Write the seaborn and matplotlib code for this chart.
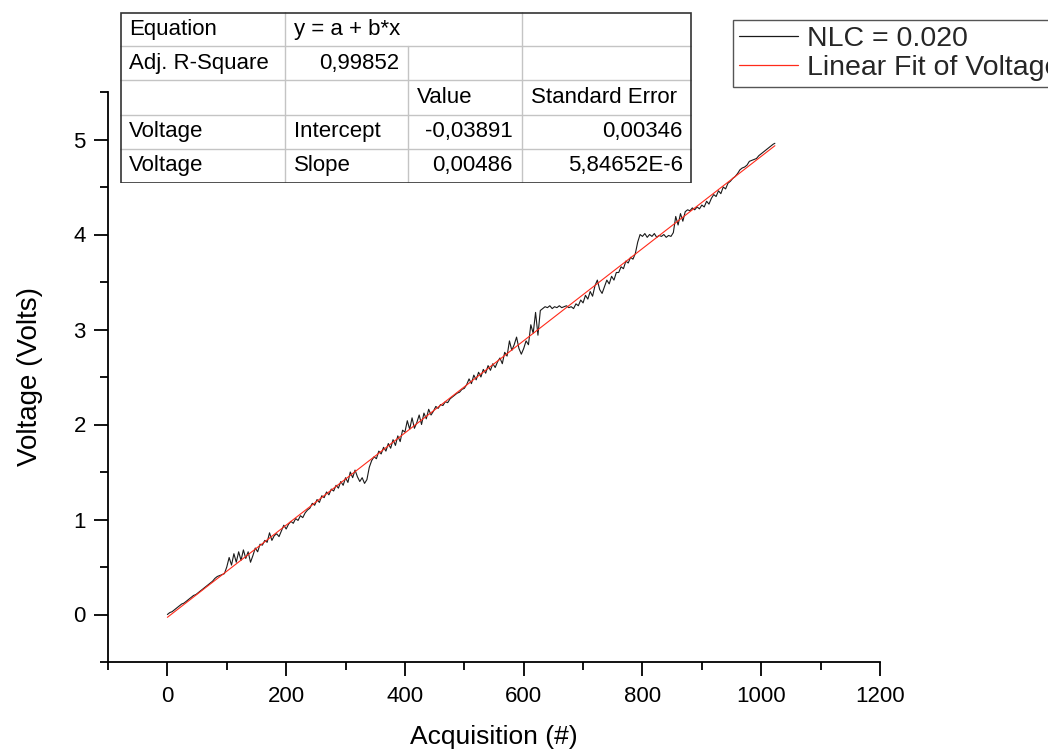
import matplotlib
matplotlib.use("Agg")
import matplotlib.pyplot as plt
import numpy as np
import pandas as pd
import seaborn as sns
from matplotlib.ticker import MultipleLocator, FormatStrFormatter

# ---------------- data ----------------
acquisition = list(range(0, 1024, 4)) + [1023]
voltage = [
    0.00, 0.02, 0.03, 0.05, 0.07, 0.09, 0.11, 0.12, 0.14, 0.16,
    0.18, 0.20, 0.21, 0.23, 0.25, 0.27, 0.29, 0.31, 0.33, 0.35,
    0.38, 0.40, 0.41, 0.42, 0.43, 0.50, 0.60, 0.52, 0.64, 0.55,
    0.66, 0.57, 0.68, 0.59, 0.66, 0.55, 0.62, 0.70, 0.66, 0.74,
    0.73, 0.78, 0.76, 0.86, 0.78, 0.83, 0.85, 0.82, 0.88, 0.94,
    0.90, 0.95, 0.98, 0.96, 1.01, 0.99, 1.04, 1.02, 1.07, 1.10,
    1.12, 1.17, 1.15, 1.21, 1.18, 1.25, 1.23, 1.29, 1.26, 1.32,
    1.30, 1.36, 1.33, 1.40, 1.36, 1.44, 1.39, 1.50, 1.44, 1.52,
    1.45, 1.40, 1.44, 1.38, 1.42, 1.55, 1.62, 1.66, 1.64, 1.72,
    1.69, 1.76, 1.72, 1.80, 1.75, 1.84, 1.78, 1.88, 1.82, 1.94,
    1.92, 2.04, 1.95, 2.07, 1.96, 2.02, 2.10, 2.00, 2.12, 2.06,
    2.16, 2.10, 2.14, 2.19, 2.17, 2.21, 2.20, 2.24, 2.23, 2.27,
    2.29, 2.31, 2.33, 2.34, 2.37, 2.38, 2.42, 2.48, 2.43, 2.52,
    2.47, 2.55, 2.50, 2.58, 2.54, 2.62, 2.57, 2.64, 2.60, 2.66,
    2.70, 2.64, 2.76, 2.72, 2.88, 2.78, 2.84, 2.92, 2.80, 2.74,
    2.80, 2.88, 2.84, 3.05, 2.96, 3.18, 2.94, 3.20, 3.22, 3.24,
    3.23, 3.25, 3.22, 3.24, 3.23, 3.25, 3.23, 3.24, 3.25, 3.23,
    3.24, 3.22, 3.27, 3.25, 3.31, 3.28, 3.36, 3.32, 3.40, 3.35,
    3.46, 3.52, 3.42, 3.38, 3.45, 3.52, 3.48, 3.56, 3.52, 3.60,
    3.60, 3.66, 3.64, 3.72, 3.70, 3.76, 3.74, 3.80, 3.92, 4.00,
    3.98, 4.01, 3.97, 4.00, 3.98, 4.01, 3.97, 3.99, 3.98, 4.00,
    3.97, 3.99, 3.98, 4.02, 4.19, 4.10, 4.22, 4.14, 4.24, 4.26,
    4.25, 4.28, 4.26, 4.29, 4.27, 4.31, 4.29, 4.35, 4.32, 4.38,
    4.42, 4.40, 4.46, 4.43, 4.50, 4.48, 4.54, 4.56, 4.59, 4.61,
    4.64, 4.68, 4.70, 4.71, 4.73, 4.77, 4.78, 4.79, 4.80, 4.83,
    4.85, 4.87, 4.89, 4.91, 4.93, 4.95,
    4.96,
]
series_label = "NLC = 0.020"
fit_label = "Linear Fit of Voltage"
x_label = "Acquisition (#)"
y_label = "Voltage (Volts)"
x_ticks = [0, 200, 400, 600, 800, 1000, 1200]
y_ticks = [0, 1, 2, 3, 4, 5]

# fit-result table: (row, column, text, alignment)
table_cells = [
    (0, 0, "Equation", "left"), (0, 1, "y = a + b*x", "left"),
    (1, 0, "Adj. R-Square", "left"), (1, 1, "0,99852", "right"),
    (2, 2, "Value", "left"), (2, 3, "Standard Error", "left"),
    (3, 0, "Voltage", "left"), (3, 1, "Intercept", "left"),
    (3, 2, "-0,03891", "right"), (3, 3, "0,00346", "right"),
    (4, 0, "Voltage", "left"), (4, 1, "Slope", "left"),
    (4, 2, "0,00486", "right"), (4, 3, "5,84652E-6", "right"),
]

# ---------------- style ----------------
sns.set_theme(style="ticks")
plt.rcParams["font.family"] = ["Liberation Sans", "DejaVu Sans"]

W, H = 1048, 756
fig = plt.figure(figsize=(W / 100, H / 100), dpi=100)
fig.patch.set_facecolor("white")

ax = fig.add_axes([108 / W, 1 - 662 / H, (880 - 108) / W, (662 - 92) / H])
ax.set_facecolor("white")

df = pd.DataFrame({"Acquisition": acquisition, "Voltage": voltage})
sns.lineplot(data=df, x="Acquisition", y="Voltage", ax=ax, color="#1a1a1a",
             lw=0.8, label=series_label, sort=False)
sns.regplot(data=df, x="Acquisition", y="Voltage", ax=ax, scatter=False,
            ci=None, truncate=True, color="#ff2a1a", line_kws={"lw": 0.8},
            label=fit_label)

ax.set_xlim(-100, 1200)
ax.set_ylim(-0.5, 5.5)
ax.set_xticks(x_ticks)
ax.set_yticks(y_ticks)
ax.xaxis.set_minor_locator(MultipleLocator(100))
ax.yaxis.set_minor_locator(MultipleLocator(0.5))
ax.xaxis.set_major_formatter(FormatStrFormatter("%d"))
ax.yaxis.set_major_formatter(FormatStrFormatter("%d"))

for s in ("top", "right"):
    ax.spines[s].set_visible(False)
for s in ("left", "bottom"):
    ax.spines[s].set_linewidth(1.3)
    ax.spines[s].set_color("black")

ax.tick_params(which="major", direction="out", length=10, width=1.3,
               colors="black", labelsize=16)
ax.tick_params(which="minor", direction="out", length=6, width=1.3,
               colors="black")
ax.tick_params(axis="x", which="major", pad=7)
ax.tick_params(axis="y", which="major", pad=6)

ax.set_xlabel(x_label, fontsize=19, labelpad=13, color="black")
ax.set_ylabel(y_label, fontsize=20, labelpad=22, color="black")

leg = ax.legend(loc="upper left", bbox_to_anchor=(733 / W, 1 - 20 / H),
                bbox_transform=fig.transFigure, frameon=True, fancybox=False,
                edgecolor="#555555", framealpha=1, fontsize=20.5,
                handlelength=2.1, handletextpad=0.3, borderpad=0.2,
                labelspacing=0.12, borderaxespad=0)
leg.get_frame().set_linewidth(1.0)
for line in leg.get_lines():
    line.set_linewidth(0.9)

# ---------------- fit table ----------------
tw, th = 572, 171
tab = fig.add_axes([120 / W, 1 - 183 / H, tw / W, th / H])
tab.set_xlim(0, tw)
tab.set_ylim(th, 0)
tab.axis("off")
tab.add_patch(plt.Rectangle((0, 0), tw, th, facecolor="white",
                            edgecolor="none", zorder=0))
col_edges = [0, 165, 288, 402, 572]
rh = th / 5
grid_c = "#c4c4c4"
for k in range(1, 5):
    tab.plot([0, tw], [k * rh, k * rh], color=grid_c, lw=1.0, zorder=1)
tab.plot([col_edges[1]] * 2, [0, th], color=grid_c, lw=1.0, zorder=1)
tab.plot([col_edges[2]] * 2, [rh, th], color=grid_c, lw=1.0, zorder=1)
tab.plot([col_edges[3]] * 2, [0, th], color=grid_c, lw=1.0, zorder=1)
tab.add_patch(plt.Rectangle((0.5, 0.5), tw - 1, th - 1, facecolor="none",
                            edgecolor="#333333", lw=1.2, zorder=2))
pad = 9
for r, c, txt, ha in table_cells:
    yc = (r + 0.5) * rh
    if ha == "left":
        xx = col_edges[c] + pad
    else:
        xx = col_edges[c + 1] - pad
    tab.text(xx, yc, txt, ha=ha, va="center", fontsize=16, color="black")

fig.savefig("out.png", dpi=100, facecolor="white")
